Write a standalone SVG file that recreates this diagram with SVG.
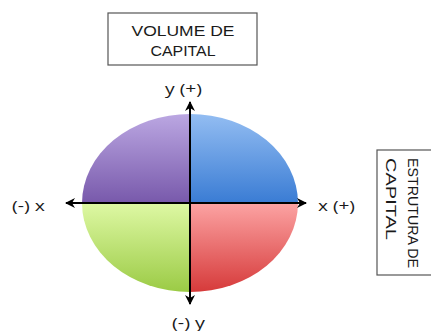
<svg xmlns="http://www.w3.org/2000/svg" width="431" height="331" viewBox="0 0 431 331">
<defs>
<style>
text{font-family:"Open Sans","Liberation Sans",sans-serif;fill:#1a1a1a;}
.box{fill:#fff;stroke:#555;stroke-width:1.2;}
.lbl{font-family:"Liberation Sans",Arial,sans-serif;font-size:15.5px;text-anchor:middle;}
.ax{font-size:15px;}
.axis{stroke:#000;stroke-width:2;fill:none;}
</style>
<linearGradient id="gBlue" x1="0" y1="0" x2="0" y2="1"><stop offset="0" stop-color="#93bdf2"/><stop offset="1" stop-color="#3a7cd4"/></linearGradient>
<linearGradient id="gPurple" x1="0" y1="0" x2="0" y2="1"><stop offset="0" stop-color="#bba7e2"/><stop offset="1" stop-color="#7859ab"/></linearGradient>
<linearGradient id="gGreen" x1="0" y1="0" x2="0" y2="1"><stop offset="0" stop-color="#def8a4"/><stop offset="1" stop-color="#9bcb45"/></linearGradient>
<linearGradient id="gRed" x1="0" y1="0" x2="0" y2="1"><stop offset="0" stop-color="#fca3a3"/><stop offset="1" stop-color="#d63a3a"/></linearGradient>
<marker id="arr" viewBox="0 0 10 10" refX="9" refY="5" markerWidth="5" markerHeight="5" orient="auto-start-reverse" markerUnits="strokeWidth">
<path d="M0,0 L10,5 L0,10 L3,5 Z" fill="#000"/>
</marker>
</defs>
<g id="quadrants">
<path d="M190,203 L190,114 A108,89 0 0 1 298,203 Z" fill="url(#gBlue)"/>
<path d="M190,203 L82,203 A108,89 0 0 1 190,114 Z" fill="url(#gPurple)"/>
<path d="M190,203 L190,292 A108,89 0 0 1 82,203 Z" fill="url(#gGreen)"/>
<path d="M190,203 L298,203 A108,89 0 0 1 190,292 Z" fill="url(#gRed)"/>
</g>
<g id="connectors">
<line class="axis" x1="190" y1="304" x2="190" y2="102" marker-start="url(#arr)" marker-end="url(#arr)"/>
<line class="axis" x1="66" y1="203" x2="306" y2="203" marker-start="url(#arr)" marker-end="url(#arr)"/>
</g>
<g id="volume">
<rect class="box" x="108" y="13" width="149" height="52"/>
<text class="lbl" x="183" y="36" textLength="103" lengthAdjust="spacingAndGlyphs">VOLUME DE</text>
<text class="lbl" x="183" y="56" textLength="65" lengthAdjust="spacingAndGlyphs">CAPITAL</text>
</g>
<g id="estrutura">
<rect class="box" x="377" y="150" width="70" height="125"/>
<text class="lbl" style="text-anchor:start" transform="translate(408,158) rotate(90)" textLength="110" lengthAdjust="spacingAndGlyphs">ESTRUTURA DE</text>
<text class="lbl" style="text-anchor:start" transform="translate(386,158) rotate(90)" textLength="82" lengthAdjust="spacingAndGlyphs">CAPITAL</text>
</g>
<g id="labels">
<text class="ax" x="165" y="94" textLength="37" lengthAdjust="spacingAndGlyphs">y (+)</text>
<text class="ax" x="12" y="211" textLength="33" lengthAdjust="spacingAndGlyphs">(-) x</text>
<text class="ax" x="318" y="211" textLength="37" lengthAdjust="spacingAndGlyphs">x (+)</text>
<text class="ax" x="172" y="328" textLength="33" lengthAdjust="spacingAndGlyphs">(-) y</text>
</g>
</svg>
